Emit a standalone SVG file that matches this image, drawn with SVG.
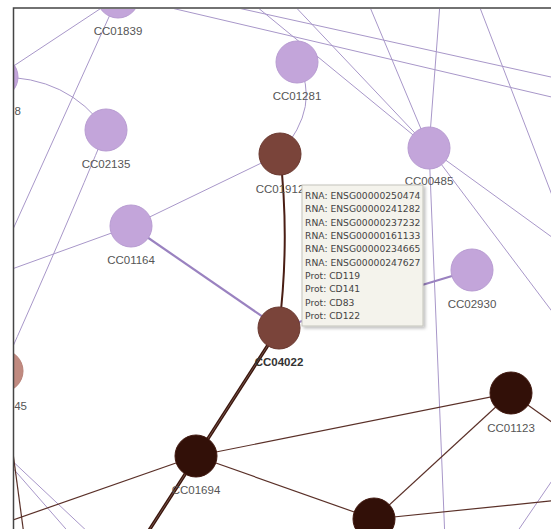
<svg xmlns="http://www.w3.org/2000/svg" width="551" height="529" viewBox="0 0 551 529">
<style>
.e{fill:none;stroke:#a897c9;stroke-width:1}
.et{fill:none;stroke:#9a82c0;stroke-width:2.2}
.eb{fill:none;stroke:#5a3028;stroke-width:1.2}
.p{fill:#c3a5da;stroke:#b89cd2;stroke-width:1}
.b{fill:#7a443a;stroke:#6a382f;stroke-width:1}
.d{fill:#321008;stroke:#40180f;stroke-width:1}
.k{fill:#c08a80;stroke:#b88076;stroke-width:1}
.l{font-family:"Liberation Sans",Arial,sans-serif;font-size:11.5px;fill:#555;text-anchor:middle}
.le{font-family:"Liberation Sans",Arial,sans-serif;font-size:11.5px;fill:#555;text-anchor:end}
.lb{font-family:"Liberation Sans",Arial,sans-serif;font-size:11.5px;font-weight:bold;fill:#333;text-anchor:middle}
.t{font-family:"DejaVu Sans",Verdana,sans-serif;font-size:9.2px;fill:#444}
</style>
<defs>
<clipPath id="c"><rect x="14" y="9" width="537" height="520"/></clipPath>
<filter id="sh" x="-10%" y="-10%" width="130%" height="130%"><feDropShadow dx="2" dy="2" stdDeviation="1.5" flood-color="#000" flood-opacity="0.25"/></filter>
</defs>
<rect width="551" height="529" fill="#fff"/>
<g clip-path="url(#c)">
<g id="connectors">
<path class="e" d="M -3 77 L 118 -3"/>
<path class="e" d="M -3 77 Q 68 76 106 130"/>
<path class="e" d="M 118 -3 L -19 300"/>
<path class="e" d="M 106 130 Q 65 230 2 371"/>
<path class="e" d="M -60 295 L 131 226"/>
<path class="e" d="M 131 226 L 280 154"/>
<path class="e" d="M 297 62 Q 322 105 280 154"/>
<path class="e" d="M 179 -5 L 560 79"/>
<path class="e" d="M 150 3 L 560 99"/>
<path class="e" d="M 289 0 L 429 148"/>
<path class="e" d="M 240 -7 L 429 148"/>
<path class="e" d="M 367 0 L 429 148"/>
<path class="e" d="M 441 -10 L 429 148"/>
<path class="e" d="M 477 0 L 555 203"/>
<path class="e" d="M 429 148 L 560 243"/>
<path class="e" d="M 429 148 L 560 322"/>
<path class="e" d="M 429 148 L 445 540"/>
<path class="e" d="M 515 535 L 560 469"/>
<path class="e" d="M -10 440 L 90 534"/>
<path class="e" d="M -10 442 L 72 536"/>
<path class="et" d="M 131 226 L 279 328"/>
<path class="et" d="M 279 328 L 472 270"/>
<path class="eb" d="M 2 371 L 26 550"/>
<path class="eb" d="M 196 456 L -30 535"/>
<path class="eb" d="M 196 456 L 511 393"/>
<path class="eb" d="M 196 456 L 374 519"/>
<path class="eb" d="M 511 393 L 374 519"/>
<path class="eb" d="M 374 519 L 560 500"/>
<path class="eb" d="M 511 393 L 560 428"/>
<path d="M 280 154 Q 290 240 279 328" fill="none" stroke="#4a1e14" stroke-width="2"/>
<path d="M 279 328 L 130 560" fill="none" stroke="#3a150c" stroke-width="3.4"/>
<path d="M 279 328 L 130 560" fill="none" stroke="#9a7a70" stroke-width="0.6"/>
</g>
<g id="n-left8"><circle class="p" cx="-3" cy="77" r="21"/><text class="le" x="21" y="115">8</text></g>
<g id="n-CC01839"><circle class="p" cx="118" cy="-3" r="21"/><text class="l" x="118" y="35">CC01839</text></g>
<g id="n-CC02135"><circle class="p" cx="106" cy="130" r="21"/><text class="l" x="106" y="168">CC02135</text></g>
<g id="n-CC01281"><circle class="p" cx="297" cy="62" r="21"/><text class="l" x="297" y="100">CC01281</text></g>
<g id="n-CC01912"><circle class="b" cx="280" cy="154" r="21"/><text class="l" x="280" y="193">CC01912</text></g>
<g id="n-CC00485"><circle class="p" cx="429" cy="148" r="21"/><text class="l" x="429" y="185">CC00485</text></g>
<g id="n-CC01164"><circle class="p" cx="131" cy="226" r="21"/><text class="l" x="131" y="264">CC01164</text></g>
<g id="n-CC02930"><circle class="p" cx="472" cy="270" r="21"/><text class="l" x="472" y="308">CC02930</text></g>
<g id="n-CC04022"><circle class="b" cx="279" cy="328" r="21"/><text class="lb" x="279" y="366">CC04022</text></g>
<g id="n-left45"><circle class="k" cx="2" cy="371" r="21"/><text class="le" x="27" y="410">45</text></g>
<g id="n-CC01694"><circle class="d" cx="196" cy="456" r="21"/><text class="l" x="196" y="494">CC01694</text></g>
<g id="n-CC01123"><circle class="d" cx="511" cy="393" r="21"/><text class="l" x="511" y="432">CC01123</text></g>
<g id="n-bottom"><circle class="d" cx="374" cy="519" r="21"/></g>
<g id="tooltip">
<rect x="302" y="185" width="121" height="141" fill="#f4f3ec" stroke="#c4c4bc" stroke-width="1" filter="url(#sh)"/>
<text class="t" x="305" y="199">RNA: ENSG00000250474</text>
<text class="t" x="305" y="212.3">RNA: ENSG00000241282</text>
<text class="t" x="305" y="225.7">RNA: ENSG00000237232</text>
<text class="t" x="305" y="239">RNA: ENSG00000161133</text>
<text class="t" x="305" y="252.3">RNA: ENSG00000234665</text>
<text class="t" x="305" y="265.7">RNA: ENSG00000247627</text>
<text class="t" x="305" y="279">Prot: CD119</text>
<text class="t" x="305" y="292.3">Prot: CD141</text>
<text class="t" x="305" y="305.7">Prot: CD83</text>
<text class="t" x="305" y="319">Prot: CD122</text>
</g>
</g>
<path d="M 13.5 529 L 13.5 8 L 551 8" fill="none" stroke="#444" stroke-width="1.5"/>
</svg>
